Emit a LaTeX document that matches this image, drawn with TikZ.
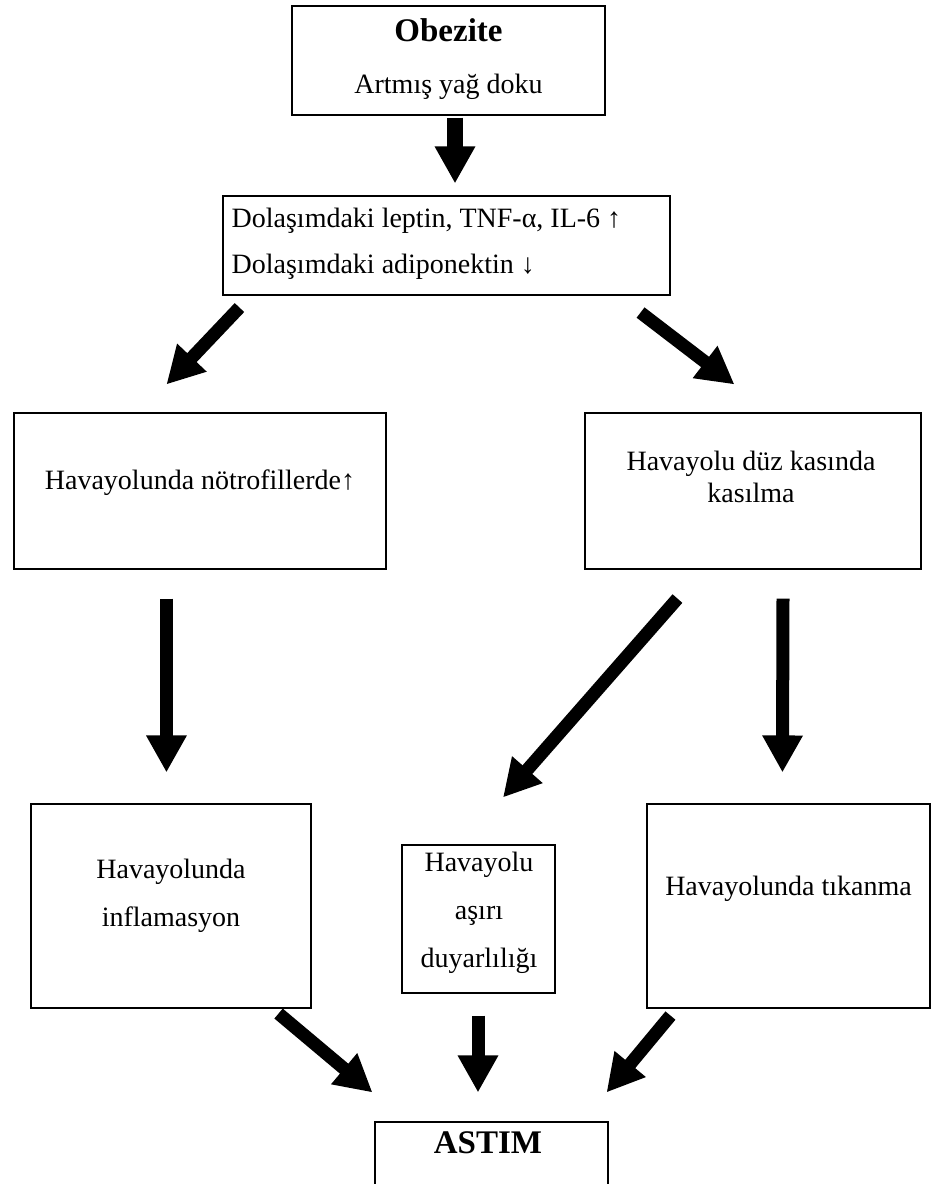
\documentclass[tikz,border=0pt]{standalone}
\usepackage{fontspec}
\setmainfont{Liberation Serif}
\usetikzlibrary{arrows.meta,calc,positioning}

\begin{document}
\begin{tikzpicture}
  [x=1pt,y=-1pt,
   box/.style={draw,line width=1.1pt,inner sep=0pt},
   txt/.style={align=center,inner sep=0pt,anchor=base,font=\fontsize{28}{32}\selectfont},
   ttl/.style={inner sep=0pt,anchor=base,font=\fontsize{33}{38}\selectfont\bfseries},
   fat/.style={line width=13pt,-{Triangle[length=37pt,width=38pt]}}]

  \clip (0,0) rectangle (933,1184);
  \fill[white] (0,0) rectangle (933,1184);

  % boxes
  \node[box,minimum width=313pt,minimum height=109pt] (obez) at (448.5,60.5) {};
  \node[box,minimum width=447pt,minimum height=99pt] (dola) at (446.5,245.5) {};
  \node[box,minimum width=372pt,minimum height=156pt] (notro) at (200,491) {};
  \node[box,minimum width=336pt,minimum height=156pt] (kas) at (753,491) {};
  \node[box,minimum width=280pt,minimum height=204pt] (infl) at (171,906) {};
  \node[box,minimum width=153pt,minimum height=148pt] (duyar) at (478.5,919) {};
  \node[box,minimum width=283pt,minimum height=204pt] (tikan) at (788.5,906) {};
  \node[box,minimum width=233pt,minimum height=93pt] (astim) at (491.5,1168.5) {};

  % texts (base = last line)
  \node[ttl] (obezt) at ($(obez.north)+(0,36)$) {Obezite};
  \node[txt] (obezs) at ($(obez.north)+(0,88)$) {Artmış yağ doku};
  \node[txt,anchor=base west,align=left] (dolat) at ($(dola.north west)+(9,78)$)
    {Dolaşımdaki leptin, TNF-α, IL-6 ↑\\[14pt]Dolaşımdaki adiponektin ↓};
  \node[txt] (notrot) at ($(notro.north)+(0,77)$) {Havayolunda nötrofillerde↑};
  \node[txt] (kast) at ($(kas.north)+(-2,90)$) {Havayolu düz kasında\\kasılma};
  \node[txt] (inflt) at ($(infl.north)+(0,123)$) {Havayolunda\\[16pt]inflamasyon};
  \node[txt] (duyart) at ($(duyar.north)+(0.5,123)$) {Havayolu\\[16pt]aşırı\\[16pt]duyarlılığı};
  \node[txt] (tikant) at ($(tikan.north)+(0,92)$) {Havayolunda tıkanma};
  \node[ttl] (astimt) at ($(astim.north)+(-3.5,32)$) {ASTIM};

  % arrows
  \draw[fat,line width=16pt] ($(obez.south)+(6.5,2)$) -- ($(dola.north)+(8.5,-12)$);
  \draw[fat] ($(dola.south west)+(17,12)$) -- ($(notro.north west)+(153,-28)$);
  \draw[fat] ($(dola.south east)+(-30,17)$) -- ($(kas.north west)+(150,-28)$);
  \draw[fat] ($(notro.south west)+(153,29)$) -- ($(infl.north west)+(136,-31)$);
  \draw[fat] ($(kas.south west)+(93,29)$) -- ($(duyar.north)+(24.5,-47)$);
  \draw[fat] ($(kas.south)+(30,29)$) -- ($(tikan.north west)+(136,-31)$);
  \draw[fat] ($(infl.south east)+(-33,5)$) -- ($(astim.north west)+(-2,-29)$);
  \draw[fat] ($(duyar.south)+(-0.5,22)$) -- ($(astim.north)+(-13.5,-29)$);
  \draw[fat] ($(tikan.south west)+(24,7)$) -- ($(astim.north east)+(-2,-29)$);

\end{tikzpicture}
\end{document}
